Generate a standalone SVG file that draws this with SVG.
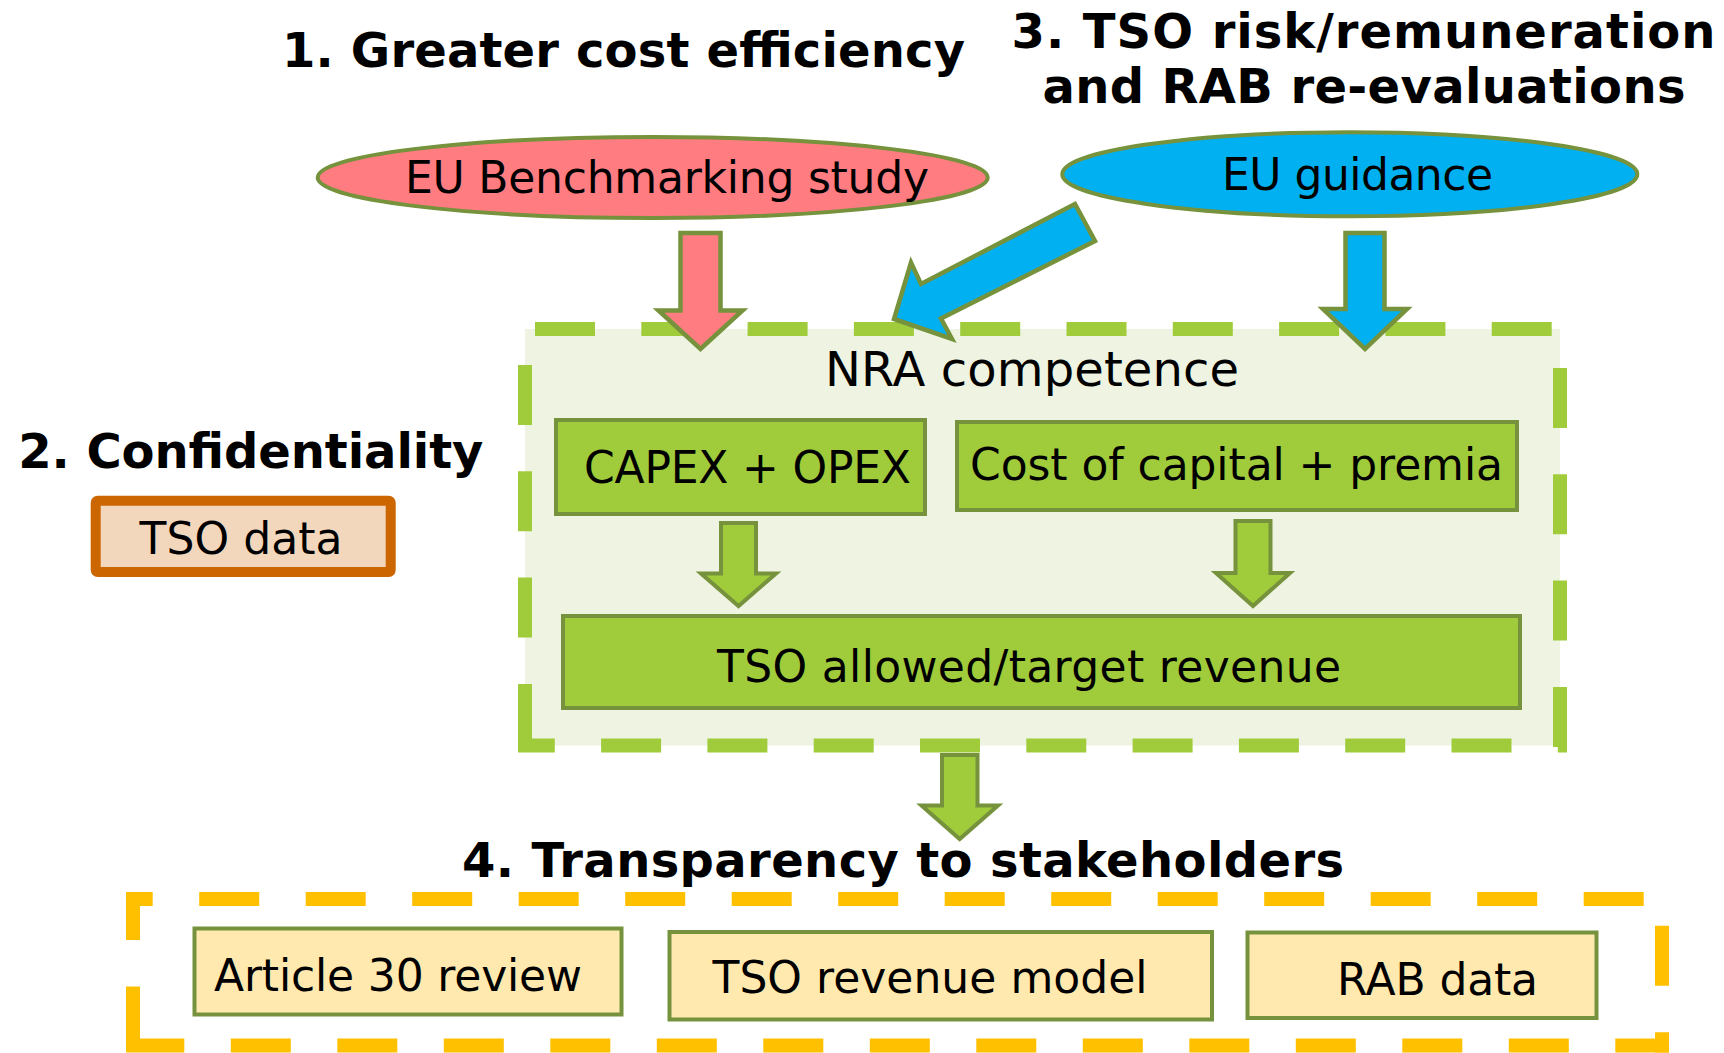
<svg xmlns="http://www.w3.org/2000/svg" width="1724" height="1053" viewBox="0 0 1724 1053">
<style>
  text { font-family: "DejaVu Sans", Verdana, "Liberation Sans", sans-serif; fill: #000; }
  .title { font-weight: bold; font-size: 48px; }
  .lbl { font-size: 44px; }
  .big { font-size: 48px; }
  .gdash { stroke: #A0CC3C; stroke-width: 14; stroke-dasharray: 60 46.3; fill: none; }
  .ydash { stroke: #FFC000; stroke-width: 14; stroke-dasharray: 60 46.5; fill: none; }
  .gbox { fill: #A0CC3C; stroke: #76923C; stroke-width: 4; }
  .ybox { fill: #FFE9AE; stroke: #76923C; stroke-width: 4; }
  .arrow-g { fill: #A0CC3C; stroke: #76923C; stroke-width: 4; stroke-linejoin: miter; }
  .arrow-p { fill: #FF7C80; stroke: #76923C; stroke-width: 4.5; stroke-linejoin: miter; }
  .arrow-b { fill: #00B0F0; stroke: #76923C; stroke-width: 4.5; stroke-linejoin: miter; }
</style>

<g id="nra-competence">
  <rect x="525" y="329" width="1035" height="416.5" fill="#EFF4E2"/>
  <line class="gdash" x1="518" y1="329" x2="1567" y2="329" stroke-dashoffset="89.3"/>
  <line class="gdash" x1="1560" y1="322" x2="1560" y2="752" stroke-dashoffset="60.3"/>
  <line class="gdash" x1="1567" y1="745.5" x2="518" y2="745.5" stroke-dashoffset="50.8"/>
  <line class="gdash" x1="525" y1="322" x2="525" y2="752" stroke-dashoffset="63.3"/>
  <text class="big" x="825" y="386" textLength="414">NRA competence</text>
</g>

<g id="capex-opex">
  <rect class="gbox" x="556" y="420" width="369" height="94"/>
  <text class="lbl" x="584" y="483" textLength="327">CAPEX + OPEX</text>
</g>

<g id="cost-of-capital">
  <rect class="gbox" x="957" y="422" width="560" height="88"/>
  <text class="lbl" x="970" y="480" textLength="533">Cost of capital + premia</text>
</g>

<g id="tso-allowed-revenue">
  <rect class="gbox" x="563" y="616" width="957" height="92"/>
  <text class="lbl" x="717" y="682" textLength="624">TSO allowed/target revenue</text>
</g>

<g id="transparency-group">
  <line class="ydash" x1="126" y1="899" x2="1669" y2="899" stroke-dashoffset="33.3"/>
  <line class="ydash" x1="1662" y1="892" x2="1662" y2="1052.5" stroke-dashoffset="72.8"/>
  <line class="ydash" x1="1669" y1="1045.5" x2="126" y2="1045.5" stroke-dashoffset="6.3"/>
  <line class="ydash" x1="133" y1="892" x2="133" y2="1052.5" stroke-dashoffset="12"/>
</g>

<g id="article-30-review">
  <rect class="ybox" x="194.5" y="928.5" width="427" height="86"/>
  <text class="lbl" x="214" y="990.5" textLength="368">Article 30 review</text>
</g>

<g id="tso-revenue-model">
  <rect class="ybox" x="669.5" y="932" width="542.5" height="87.5"/>
  <text class="lbl" x="712.5" y="993" textLength="435">TSO revenue model</text>
</g>

<g id="rab-data">
  <rect class="ybox" x="1247.5" y="932.5" width="349" height="85.5"/>
  <text class="lbl" x="1337" y="995" textLength="201">RAB data</text>
</g>

<g id="tso-data">
  <rect x="95.7" y="500.8" width="295" height="71.2" rx="2" fill="#F3D7BD" stroke="#CC6600" stroke-width="10"/>
  <text class="lbl" x="139.5" y="554" textLength="203">TSO data</text>
</g>

<g id="eu-benchmarking-study">
  <ellipse cx="652.7" cy="177.5" rx="335" ry="40.5" fill="#FF7C80" stroke="#76923C" stroke-width="4"/>
  <text class="lbl" x="405" y="193" textLength="524">EU Benchmarking study</text>
</g>

<g id="eu-guidance">
  <ellipse cx="1349.8" cy="174.2" rx="287.5" ry="42" fill="#00B0F0" stroke="#76923C" stroke-width="4"/>
  <text class="lbl" x="1222" y="190" textLength="271">EU guidance</text>
</g>

<g id="title-1">
  <text class="title" x="282" y="67" textLength="683">1. Greater cost efficiency</text>
</g>
<g id="title-2">
  <text class="title" x="18.3" y="468" textLength="465">2. Confidentiality</text>
</g>
<g id="title-3">
  <text class="title" x="1363.5" y="48" text-anchor="middle" textLength="704">3. TSO risk/remuneration</text>
  <text class="title" x="1364" y="103" text-anchor="middle" textLength="643">and RAB re-evaluations</text>
</g>
<g id="title-4">
  <text class="title" x="462" y="876.5" textLength="882">4. Transparency to stakeholders</text>
</g>

<g id="connectors">
  <polygon class="arrow-p" points="680.5,233 720.5,233 720.5,310.5 742.5,310.5 700.5,349 658.5,310.5 680.5,310.5"/>
  <polygon class="arrow-b" points="1345.5,233 1384.5,233 1384.5,309 1407,309 1365,349 1323,309 1345.5,309"/>
  <polygon class="arrow-b" points="1075,204 1095,241 941,318.5 952,339 894,319 911,262.5 921,284"/>
  <polygon class="arrow-g" points="721,523 756,523 756,573.5 776,573.5 738.5,606 701,573.5 721,573.5"/>
  <polygon class="arrow-g" points="1235.5,521 1270.5,521 1270.5,573 1290,573 1253,606 1216,573 1235.5,573"/>
  <polygon class="arrow-g" points="942,755 977.5,755 977.5,805.5 998,805.5 959.7,839 921.5,805.5 942,805.5"/>
</g>
</svg>
